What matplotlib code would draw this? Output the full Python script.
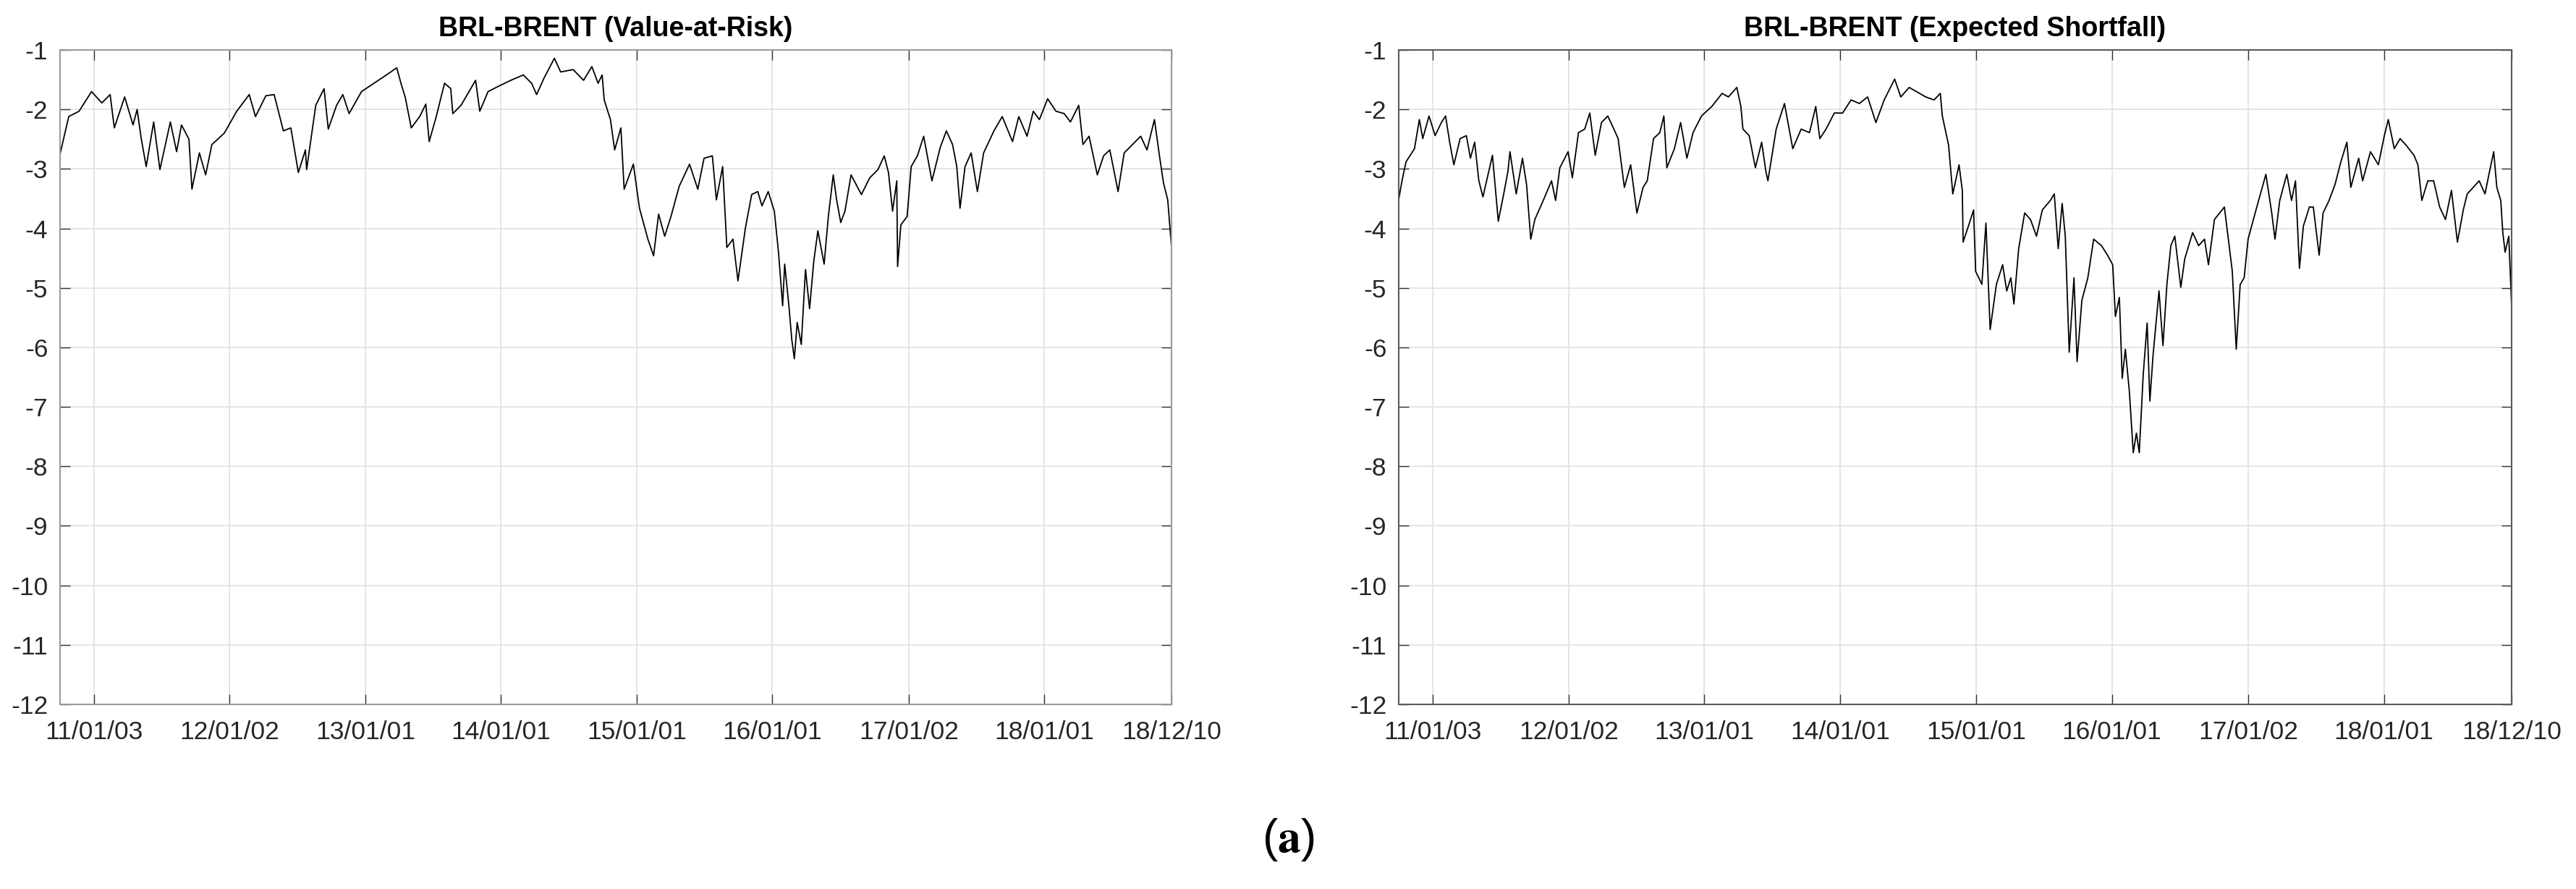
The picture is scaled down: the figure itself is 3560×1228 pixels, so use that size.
import numpy as np
import pandas as pd
import matplotlib
matplotlib.use('Agg')
import matplotlib.pyplot as plt
import matplotlib.dates as mdates

# Value-at-Risk series (decimal year, value)
varYears = [2010.755, 2010.817, 2010.893, 2010.985, 2011.061, 2011.122, 2011.153, 2011.229,
            2011.291, 2011.321, 2011.352, 2011.388, 2011.443, 2011.489, 2011.566, 2011.612,
            2011.648, 2011.703, 2011.725, 2011.780, 2011.826, 2011.872, 2011.963, 2012.055,
            2012.147, 2012.193, 2012.269, 2012.330, 2012.361, 2012.398, 2012.453, 2012.508,
            2012.560, 2012.569, 2012.636, 2012.697, 2012.728, 2012.789, 2012.835, 2012.881,
            2012.972, 2013.064, 2013.156, 2013.232, 2013.263, 2013.294, 2013.339, 2013.401,
            2013.446, 2013.471, 2013.523, 2013.584, 2013.630, 2013.645, 2013.706, 2013.813,
            2013.844, 2013.905, 2013.982, 2014.073, 2014.165, 2014.226, 2014.263, 2014.318,
            2014.394, 2014.440, 2014.532, 2014.609, 2014.670, 2014.716, 2014.746, 2014.761,
            2014.807, 2014.838, 2014.884, 2014.908, 2014.976, 2015.021, 2015.083,
            2015.125, 2015.162, 2015.207, 2015.253, 2015.314, 2015.390, 2015.451, 2015.497,
            2015.558, 2015.588, 2015.634, 2015.665, 2015.710, 2015.747, 2015.802, 2015.848,
            2015.893, 2015.924, 2015.970, 2016.015, 2016.046, 2016.076, 2016.091, 2016.122,
            2016.143, 2016.162, 2016.183, 2016.213, 2016.244, 2016.274, 2016.305, 2016.335,
            2016.381, 2016.412, 2016.448, 2016.473, 2016.503, 2016.534, 2016.579, 2016.655,
            2016.716, 2016.777, 2016.823, 2016.854, 2016.884, 2016.915, 2016.921, 2016.945,
            2016.991, 2017.021, 2017.067, 2017.113, 2017.174, 2017.235, 2017.280, 2017.326,
            2017.357, 2017.381, 2017.418, 2017.463, 2017.509, 2017.555, 2017.631, 2017.692,
            2017.768, 2017.814, 2017.875, 2017.921, 2017.966, 2018.027, 2018.088, 2018.149,
            2018.195, 2018.256, 2018.287, 2018.332, 2018.393, 2018.439, 2018.485, 2018.546,
            2018.591, 2018.652, 2018.713, 2018.759, 2018.814, 2018.851, 2018.881, 2018.912,
            2018.940]
varValues = [-2.73, -2.12, -2.03, -1.70, -1.89, -1.75, -2.31, -1.79,
             -2.26, -2.00, -2.50, -2.96, -2.21, -3.01, -2.21, -2.71,
             -2.26, -2.50, -3.34, -2.73, -3.10, -2.59, -2.40, -2.03,
             -1.75, -2.12, -1.77, -1.75, -2.03, -2.36, -2.31, -3.06,
             -2.68, -3.01, -1.93, -1.65, -2.33, -1.93, -1.75, -2.07,
             -1.70, -1.56, -1.42, -1.30, -1.56, -1.79, -2.31, -2.12,
             -1.91, -2.54, -2.12, -1.56, -1.65, -2.07, -1.93, -1.51,
             -2.03, -1.70, -1.61, -1.51, -1.42, -1.56, -1.75, -1.47,
             -1.14, -1.37, -1.33, -1.51, -1.28, -1.56, -1.42, -1.84,
             -2.17, -2.68, -2.31, -3.34, -2.92, -3.66, -4.18,
             -4.46, -3.76, -4.13, -3.80, -3.29, -2.92, -3.34, -2.82,
             -2.78, -3.52, -2.96, -4.32, -4.18, -4.88, -3.99, -3.43,
             -3.38, -3.62, -3.38, -3.71, -4.41, -5.30, -4.60, -5.30,
             -5.86, -6.19, -5.58, -5.95, -4.69, -5.35, -4.55, -4.04,
             -4.60, -3.80, -3.10, -3.52, -3.90, -3.71, -3.10, -3.43,
             -3.15, -3.01, -2.78, -3.06, -3.71, -3.20, -4.64, -3.94,
             -3.80, -2.96, -2.78, -2.45, -3.20, -2.64, -2.36, -2.59,
             -2.96, -3.66, -2.96, -2.73, -3.38, -2.73, -2.36, -2.12,
             -2.54, -2.12, -2.45, -2.03, -2.17, -1.82, -2.03, -2.07,
             -2.21, -1.93, -2.59, -2.45, -3.10, -2.78, -2.68, -3.38,
             -2.73, -2.59, -2.45, -2.68, -2.17, -2.78, -3.24, -3.52,
             -4.32]

# Expected Shortfall series
esYears = [2010.752, 2010.777, 2010.807, 2010.869, 2010.905, 2010.930, 2010.976, 2011.021,
           2011.067, 2011.098, 2011.128, 2011.159, 2011.205, 2011.251, 2011.281, 2011.312,
           2011.343, 2011.373, 2011.443, 2011.486, 2011.526, 2011.557, 2011.572, 2011.618,
           2011.664, 2011.694, 2011.725, 2011.755, 2011.817, 2011.878, 2011.908, 2011.939,
           2012.000, 2012.031, 2012.076, 2012.122, 2012.159, 2012.199, 2012.245, 2012.291,
           2012.336, 2012.367, 2012.413, 2012.459, 2012.505, 2012.550, 2012.581, 2012.627,
           2012.673, 2012.703, 2012.725, 2012.780, 2012.826, 2012.872, 2012.917, 2012.979,
           2013.055, 2013.131, 2013.177, 2013.239, 2013.269, 2013.284, 2013.330, 2013.376,
           2013.422, 2013.453, 2013.468, 2013.529, 2013.590, 2013.651, 2013.713, 2013.774,
           2013.820, 2013.850, 2013.896, 2013.957, 2014.018, 2014.080, 2014.141, 2014.202,
           2014.263, 2014.324, 2014.401, 2014.446, 2014.508, 2014.584, 2014.630, 2014.691,
           2014.737, 2014.752, 2014.798, 2014.829, 2014.875, 2014.899, 2014.905, 2014.951,
           2014.982, 2014.997, 2015.043, 2015.073, 2015.104, 2015.150, 2015.196, 2015.226,
           2015.256, 2015.279, 2015.314, 2015.358, 2015.401, 2015.445, 2015.488, 2015.547,
           2015.576, 2015.605, 2015.634, 2015.657, 2015.686, 2015.721, 2015.744, 2015.779,
           2015.823, 2015.866, 2015.924, 2015.968, 2016.006, 2016.026, 2016.055, 2016.076,
           2016.099, 2016.128, 2016.157, 2016.180, 2016.201, 2016.230, 2016.259, 2016.279,
           2016.302, 2016.346, 2016.375, 2016.404, 2016.433, 2016.462, 2016.506, 2016.535,
           2016.593, 2016.637, 2016.680, 2016.709, 2016.753, 2016.826, 2016.855, 2016.884,
           2016.913, 2016.942, 2016.971, 2017.000, 2017.058, 2017.131, 2017.174, 2017.198,
           2017.233, 2017.285, 2017.320, 2017.349, 2017.378, 2017.407, 2017.451, 2017.480,
           2017.523, 2017.552, 2017.596, 2017.640, 2017.683, 2017.727, 2017.756, 2017.814,
           2017.843, 2017.901, 2017.959, 2018.003, 2018.032, 2018.076, 2018.119, 2018.163,
           2018.221, 2018.250, 2018.279, 2018.323, 2018.366, 2018.410, 2018.453, 2018.497,
           2018.541, 2018.584, 2018.613, 2018.657, 2018.701, 2018.744, 2018.773, 2018.808,
           2018.831, 2018.860, 2018.875, 2018.892, 2018.919, 2018.940]
esValues = [-3.53, -3.20, -2.88, -2.66, -2.17, -2.49, -2.11, -2.44,
            -2.22, -2.11, -2.55, -2.93, -2.49, -2.44, -2.82, -2.55,
            -3.20, -3.47, -2.77, -3.88, -3.42, -3.04, -2.71, -3.42,
            -2.82, -3.26, -4.18, -3.85, -3.53, -3.20, -3.53, -2.98,
            -2.71, -3.15, -2.39, -2.33, -2.06, -2.77, -2.22, -2.11,
            -2.33, -2.49, -3.31, -2.93, -3.74, -3.31, -3.20, -2.49,
            -2.39, -2.11, -2.98, -2.66, -2.22, -2.82, -2.39, -2.11,
            -1.95, -1.73, -1.79, -1.63, -1.95, -2.33, -2.44, -2.98,
            -2.55, -3.04, -3.20, -2.33, -1.90, -2.66, -2.33, -2.39,
            -1.95, -2.49, -2.33, -2.06, -2.06, -1.84, -1.90, -1.79,
            -2.22, -1.84, -1.49, -1.79, -1.63, -1.73, -1.79, -1.84,
            -1.73, -2.11, -2.60, -3.42, -2.93, -3.36, -4.23, -3.91,
            -3.69, -4.72, -4.94, -3.91, -5.70, -4.94, -4.61, -5.05,
            -4.83, -5.27, -4.34, -3.74, -3.85, -4.13, -3.69, -3.53,
            -3.42, -4.34, -3.58, -4.13, -6.08, -4.83, -6.24, -5.21,
            -4.83, -4.18, -4.29, -4.45, -4.61, -5.48, -5.16, -6.52,
            -6.03, -6.73, -7.77, -7.44, -7.77, -6.46, -5.59, -6.90,
            -6.14, -5.05, -5.97, -4.94, -4.29, -4.13, -4.99, -4.51,
            -4.07, -4.29, -4.18, -4.61, -3.85, -3.64, -4.18, -4.72,
            -6.03, -4.94, -4.83, -4.18, -3.69, -3.09, -3.74, -4.18,
            -3.53, -3.09, -3.53, -3.20, -4.67, -3.96, -3.64, -3.64,
            -4.45, -3.74, -3.53, -3.26, -2.88, -2.55, -3.31, -2.82,
            -3.20, -2.71, -2.93, -2.44, -2.17, -2.66, -2.49, -2.60,
            -2.77, -2.93, -3.53, -3.20, -3.20, -3.64, -3.85, -3.36,
            -4.23, -3.69, -3.42, -3.31, -3.20, -3.42, -3.09, -2.71,
            -3.31, -3.53, -4.07, -4.40, -4.13, -5.32]

tickDates = ['2011-01-03', '2012-01-02', '2013-01-01', '2014-01-01', '2015-01-01',
             '2016-01-01', '2017-01-02', '2018-01-01', '2018-12-10']
yTicks = list(range(-12, 0))
titles = ['BRL-BRENT (Value-at-Risk)', 'BRL-BRENT (Expected Shortfall)']


def toDates(decYears):
    out = []
    for y in decYears:
        yr = int(np.floor(y))
        start = pd.Timestamp(year=yr, month=1, day=1)
        nDays = (pd.Timestamp(year=yr + 1, month=1, day=1) - start).days
        out.append(start + pd.Timedelta(days=(y - yr) * nDays))
    return out


plt.rcParams['font.family'] = ['Liberation Sans', 'DejaVu Sans']
plt.rcParams['mathtext.fontset'] = 'stix'

fig = plt.figure(figsize=(35.6, 12.28), dpi=100)
axPos = [[83 / 3560, 1 - 973 / 1228, 1536 / 3560, 904 / 1228],
         [1933 / 3560, 1 - 973 / 1228, 1538 / 3560, 904 / 1228]]
seriesList = [(varYears, varValues), (esYears, esValues)]
spineColors = ['#9a9a9a', '#5a5a5a']

xTicks = pd.to_datetime(tickDates)
xStart = toDates([2010.753])[0]
xEnd = pd.Timestamp('2018-12-10')

for i in range(2):
    ax = fig.add_axes(axPos[i])
    xs, ys = seriesList[i]
    ax.plot(toDates(xs), ys, color='black', linewidth=1.3)

    ax.set_xlim(xStart, xEnd)
    ax.set_ylim(-12, -1)
    ax.set_yticks(yTicks)
    ax.set_yticklabels([str(v) for v in yTicks])
    ax.set_xticks(xTicks)
    ax.set_xticklabels([d.strftime('%y/%m/%d') for d in xTicks])

    ax.grid(True, color='#e3e3e3', linewidth=1.3)
    ax.set_axisbelow(True)
    ax.tick_params(direction='in', length=10, width=1.0, color='#333333',
                   top=True, right=True, labelsize=25.5, labelcolor='#262626')
    ax.tick_params(axis='x', pad=16)
    ax.tick_params(axis='y', pad=12)
    for sp in ax.spines.values():
        sp.set_color(spineColors[i])
        sp.set_linewidth(1.5)

    ax.set_title(titles[i], fontsize=27, fontweight='bold', pad=14)

fig.text(0.5, 1 - 1160 / 1228, r'(${\bf a}$)', fontsize=46, ha='center', va='center')

fig.savefig('out.png', dpi=100, facecolor='white')
